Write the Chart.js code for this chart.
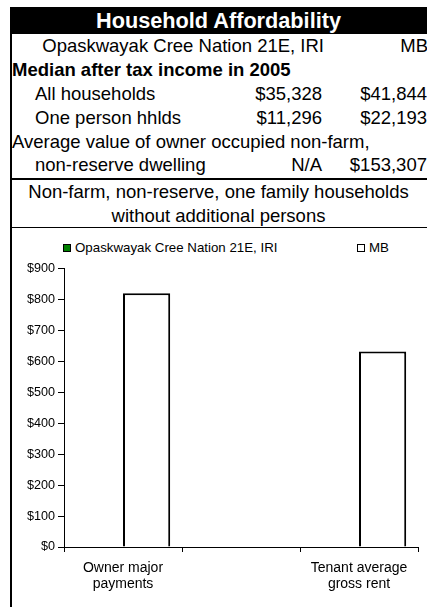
<!DOCTYPE html>
<html>
<head>
<meta charset="utf-8">
<script src="https://cdn.jsdelivr.net/npm/chart.js@4"></script>
<style>
body { margin:0; width:427px; height:607px; overflow:hidden; position:relative; background:#fff;
       font-family:"Liberation Sans", Arial, sans-serif; color:#000; }
.t { position:absolute; white-space:nowrap; font-size:18.5px; line-height:24px; height:24px; }
.b { font-weight:bold; }
#frame { position:absolute; left:10px; top:7px; width:2px; height:600px; background:#000; }
#title { position:absolute; left:10px; top:7px; width:417px; height:27px; background:#000; color:#fff;
         font-weight:bold; font-size:21.7px; line-height:27px; text-align:center; }
.hr { position:absolute; left:10px; width:417px; background:#000; }
#legend { position:absolute; left:0; top:240px; width:427px; height:16px; font-size:13.3px; }
.lg { position:absolute; top:0; line-height:16px; white-space:nowrap; }
.lg i { display:inline-block; width:6px; height:6px; border:1px solid #000; margin-right:4px; vertical-align:0px; }
#chart { position:absolute; left:12px; top:258px; }
</style>
</head>
<body>
<div id="frame"></div>
<div id="title">Household Affordability</div>
<div class="hr" style="top:178px;height:2px"></div>
<div class="hr" style="top:227px;height:1px"></div>
<div id="legend"></div>
<canvas id="chart" width="415" height="349"></canvas>
<script>
// table values
const areaName = "Opaskwayak Cree Nation 21E, IRI";
const provName = "MB";
const incomeHeading = "Median after tax income in 2005";
const incomeLabels = ["All households", "One person hhlds"];
const incomeArea = ["$35,328", "$11,296"];
const incomeProv = ["$41,844", "$22,193"];
const dwellingLabel = ["Average value of owner occupied non-farm,", "non-reserve dwelling"];
const dwellingArea = "N/A";
const dwellingProv = "$153,307";
const chartHeading = ["Non-farm, non-reserve, one family households", "without additional persons"];

// chart values
const categories = [["Owner major", "payments"], "", ["Tenant average", "gross rent"]];
const areaCosts = [null, null, null];
const provCosts = [820, null, 632];
const yMin = 0, yMax = 900, yStep = 100;

function put(text, x, yc, align, bold) {
    var d = document.createElement('div');
    d.className = 't' + (bold ? ' b' : '');
    d.textContent = text;
    d.style.top = (yc - 12) + 'px';
    if (align == 'right') d.style.right = (427 - x) + 'px';
    else if (align == 'center') { d.style.left = '10px'; d.style.width = '417px'; d.style.textAlign = 'center'; }
    else d.style.left = x + 'px';
    document.body.appendChild(d);
}

put(areaName, 324, 46, 'right');
put(provName, 428, 46, 'right');
put(incomeHeading, 12, 70, 'left', true);
incomeLabels.forEach((lab, i) => {
    var y = 94 + i * 24;
    put(lab, 35, y, 'left');
    put(incomeArea[i], 322, y, 'right');
    put(incomeProv[i], 427, y, 'right');
});
put(dwellingLabel[0], 12, 142, 'left');
put(dwellingLabel[1], 35, 165, 'left');
put(dwellingArea, 322, 165, 'right');
put(dwellingProv, 427, 165, 'right');
put(chartHeading[0], 0, 192, 'center');
put(chartHeading[1], 0, 216, 'center');

Chart.defaults.font.family = '"Liberation Sans", Arial, sans-serif';
Chart.defaults.color = '#000';

const ctx = document.getElementById('chart');
const chart = new Chart(ctx, {
    type: 'bar',
    data: {
        labels: categories,
        datasets: [
            { label: areaName, data: areaCosts, backgroundColor: '#008000', borderColor: '#000', borderWidth: 2 },
            { label: provName, data: provCosts, backgroundColor: '#fff', borderColor: '#000', borderWidth: 2 }
        ]
    },
    options: {
        responsive: false,
        animation: false,
        layout: { padding: { top: 10, right: 9, left: 0, bottom: 0 } },
        plugins: { legend: { display: false }, tooltip: { enabled: false } },
        datasets: { bar: { categoryPercentage: 0.8, barPercentage: 1.0 } },
        scales: {
            x: {
                grid: { drawOnChartArea: false, tickLength: 5, color: '#000' },
                border: { color: '#000' },
                ticks: { color: '#000', font: { size: 14, lineHeight: 1.15 }, maxRotation: 0, autoSkip: false, padding: 8 },
                afterFit: s => { s.height = 60; }
            },
            y: {
                min: yMin, max: yMax,
                grid: { drawOnChartArea: false, tickLength: 6, color: '#000' },
                border: { color: '#000' },
                ticks: { stepSize: yStep, color: '#000', font: { size: 12.6 }, padding: 3, callback: v => '$' + v },
                afterFit: s => { s.width = 52; }
            }
        }
    }
});

// legend built from the datasets
const legendX = [63, 357];
chart.data.datasets.forEach((ds, i) => {
    var it = document.createElement('div');
    it.className = 'lg';
    it.style.left = legendX[i] + 'px';
    var sw = document.createElement('i');
    sw.style.background = ds.backgroundColor;
    it.appendChild(sw);
    it.appendChild(document.createTextNode(ds.label));
    document.getElementById('legend').appendChild(it);
});
</script>
</body>
</html>
